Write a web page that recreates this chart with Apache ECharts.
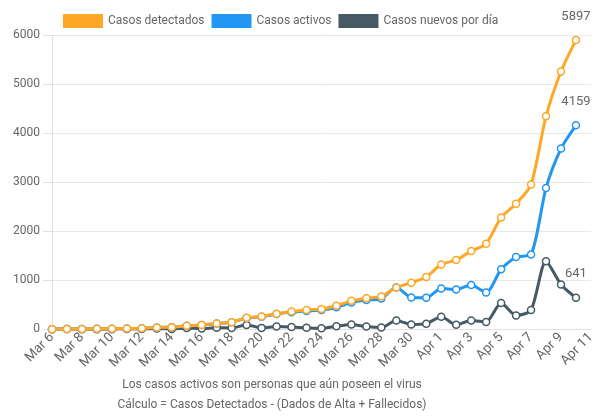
<!DOCTYPE html>
<html>
<head>
<meta charset="utf-8">
<script src="https://cdn.jsdelivr.net/npm/echarts@6/dist/echarts.min.js"></script>
<style>
html,body{margin:0;padding:0;background:#fff;}
#c{width:598px;height:416px;}
</style>
</head>
<body>
<div id="c"></div>
<script>
const categories = ["Mar 6","Mar 7","Mar 8","Mar 9","Mar 10","Mar 11","Mar 12","Mar 13","Mar 14","Mar 15","Mar 16","Mar 17","Mar 18","Mar 19","Mar 20","Mar 21","Mar 22","Mar 23","Mar 24","Mar 25","Mar 26","Mar 27","Mar 28","Mar 29","Mar 30","Mar 31","Apr 1","Apr 2","Apr 3","Apr 4","Apr 5","Apr 6","Apr 7","Apr 8","Apr 9","Apr 10","Apr 11"];
const detected = [1,6,7,9,11,17,22,38,43,71,86,117,145,234,263,318,363,395,416,480,580,635,671,852,950,1065,1323,1414,1595,1746,2281,2561,2954,4342,5256,5897];
const active = [1,6,7,9,11,17,22,38,43,71,86,116,143,230,258,310,350,375,392,450,545,595,628,852,649,641,831,811,905,750,1223,1473,1527,2880,3684,4159];
const newCases = [1,5,1,2,2,6,5,16,5,28,15,31,28,89,29,55,45,32,21,64,100,55,36,181,98,115,258,91,181,151,535,280,393,1388,914,641];
const yTicks = {min:0, max:6000, interval:1000};
const seriesNames = ["Casos detectados","Casos activos","Casos nuevos por día"];
const seriesColors = ["#FFA726","#2196F3","#455A64"];
const footLines = ["Los casos activos son personas que aún poseen el virus","Cálculo = Casos Detectados - (Dados de Alta + Fallecidos)"];

const chart = echarts.init(document.getElementById('c'));
const font = 'Roboto, "Helvetica Neue", Arial, sans-serif';
const dataSets = [detected, active, newCases];

const series = [0,1,2].map(i => {
  const d = dataSets[i];
  return {
    name: seriesNames[i],
    type: 'line',
    z: 10 - i,
    smooth: 0.25,
    symbol: 'circle',
    symbolSize: 7,
    showAllSymbol: true,
    lineStyle: {color: seriesColors[i], width: 3},
    itemStyle: {color: '#fff', borderColor: seriesColors[i], borderWidth: 1.5},
    emphasis: {disabled: true},
    data: d.map((v,k)=> k===d.length-1 ? {value:v, label:{show:true, position:'top', distance:13, color:'#666', fontSize:13, fontFamily:font}} : v)
  };
});

chart.setOption({
  animation: false,
  textStyle: {fontFamily: font},
  grid: {left: 52, right: 6, top: 35, bottom: 86.7, containLabel: false},
  legend: {
    top: 9, left: 58,
    itemWidth: 40, itemHeight: 14, itemGap: 7,
    icon: 'rect',
    textStyle: {color: '#666', fontSize: 12, fontFamily: font},
    data: seriesNames.map((n,i)=>({name:n, itemStyle:{color:seriesColors[i], borderWidth:0}}))
  },
  xAxis: {
    type: 'category',
    data: categories,
    boundaryGap: false,
    axisLine: {show: true, lineStyle: {color: '#e0e0e0'}},
    axisTick: {show: false},
    splitLine: {show: false},
    axisLabel: {interval: 1, rotate: 45, color: '#666', fontSize: 13.5, margin: 6, fontFamily: font}
  },
  yAxis: {
    type: 'value',
    min: yTicks.min, max: yTicks.max, interval: yTicks.interval,
    axisLine: {show: true, lineStyle: {color: '#e0e0e0'}},
    axisTick: {show: true, length: 9, lineStyle: {color: '#e0e0e0'}},
    splitLine: {show: true, lineStyle: {color: '#e8e8e8'}},
    axisLabel: {color: '#666', fontSize: 12, margin: 12, fontFamily: font, formatter: v => String(v)}
  },
  graphic: footLines.map((t,i)=>({
    type: 'text',
    x: 272, y: 385 + i*20,
    style: {text: t, fill: '#666', font: '12px ' + font, textAlign: 'center', textVerticalAlign: 'middle'}
  })),
  series: series
});
</script>
</body>
</html>
